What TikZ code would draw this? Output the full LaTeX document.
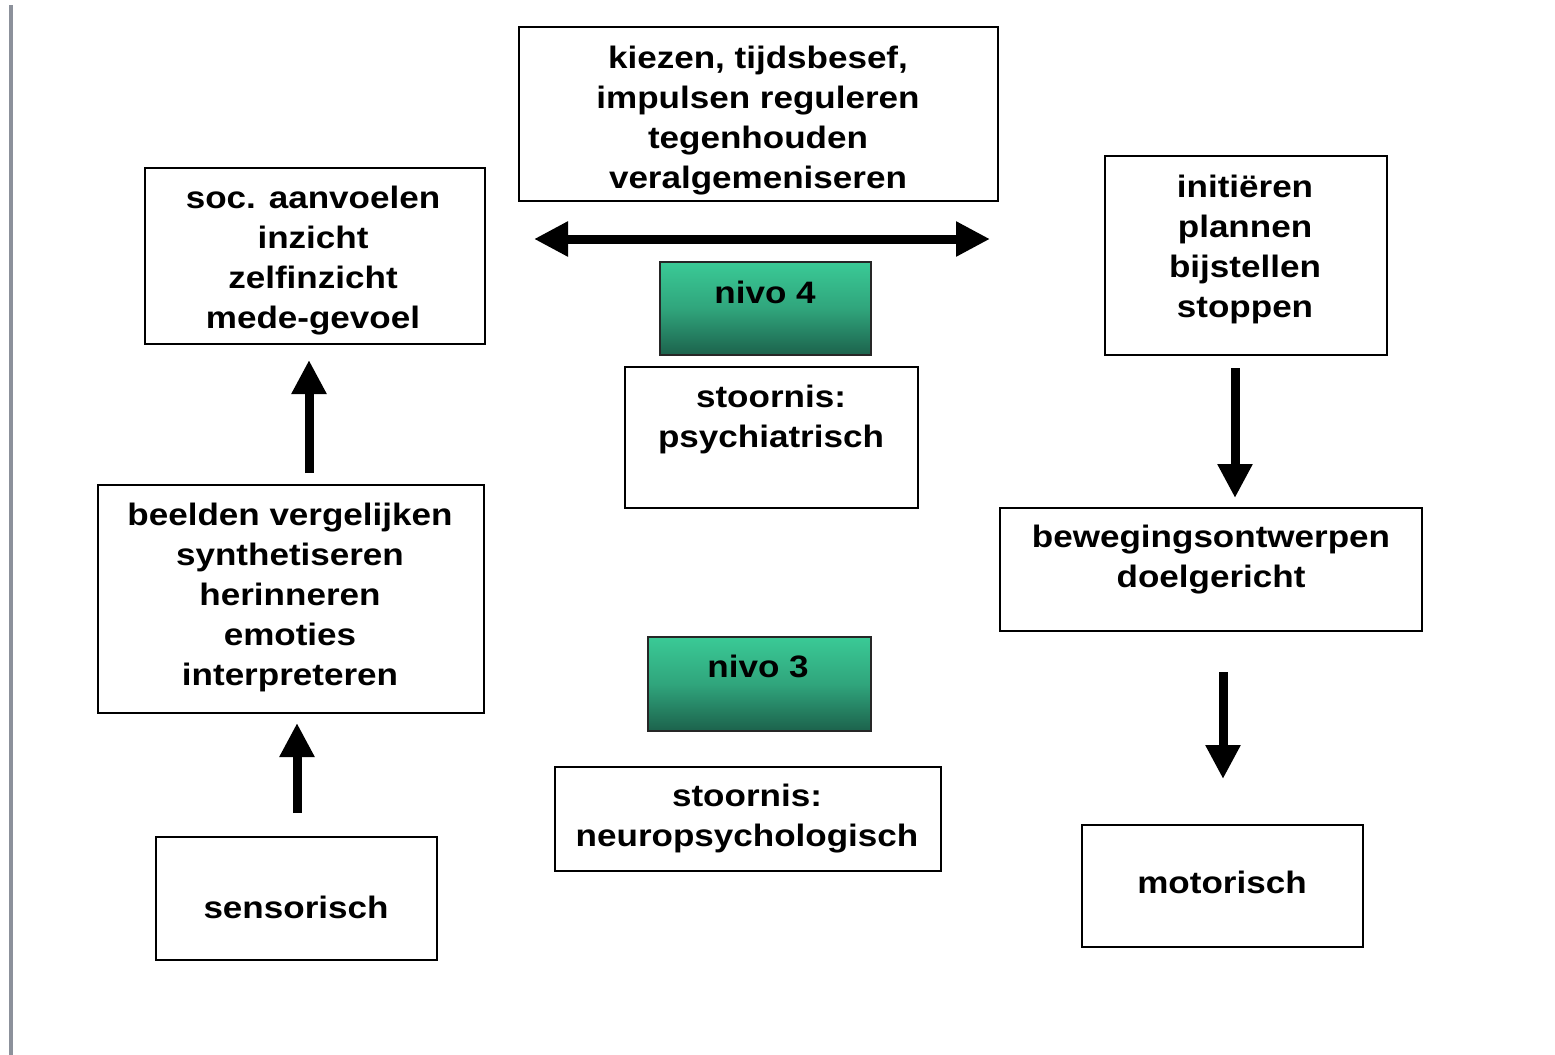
\documentclass[tikz,border=0pt]{standalone}
\usepackage{fontspec}
\setmainfont{Liberation Sans}[FakeStretch=1.13]
\usetikzlibrary{arrows.meta}
\definecolor{gtop}{RGB}{58,202,150}
\definecolor{gmid}{RGB}{48,165,124}
\definecolor{gbot}{RGB}{28,98,76}
\definecolor{edgegray}{RGB}{140,145,155}
\begin{document}
\begin{tikzpicture}[x=0.5pt,y=-0.5pt,
  boxshape/.style={draw=black,line width=0.7pt,fill=white},
  greenbox/.style={draw=black!85,line width=0.7pt,top color=gtop,bottom color=gbot,middle color=gmid},
  txt/.style={font=\fontsize{15.5}{20}\selectfont\bfseries,align=center,inner sep=0pt},
  bigarrow/.style={line width=4.5pt,-{Triangle[width=16.5pt,length=17pt]}},
  dblarrow/.style={line width=4.5pt,{Triangle[width=16.5pt,length=17pt]}-{Triangle[width=16.5pt,length=17pt]}}
]
\useasboundingbox (0,0) rectangle (1555,1055);
\fill[white] (0,0) rectangle (1555,1055);
\draw[edgegray,line width=2pt] (11,5) -- (11,1055);

% boxes
\draw[boxshape] (519,27) rectangle (998,201);
\node[txt] (ttop) at (758,121) {kiezen, tijdsbesef,\\impulsen reguleren\\tegenhouden\\veralgemeniseren};

\draw[boxshape] (145,168) rectangle (485,344);
\node[txt] (tlt) at (313,261) {soc. aanvoelen\\inzicht\\zelfinzicht\\mede-gevoel};

\draw[boxshape] (1105,156) rectangle (1387,355);
\node[txt] (trt) at (1245,249) {initiëren\\plannen\\bijstellen\\stoppen};

\draw[greenbox] (660,262) rectangle (871,355);
\node[txt] (n4) at (765,292) {nivo 4};

\draw[boxshape] (625,367) rectangle (918,508);
\node[txt] (sp) at (771,419) {stoornis:\\psychiatrisch};

\draw[boxshape] (98,485) rectangle (484,713);
\node[txt] (tlm) at (290,597) {beelden vergelijken\\synthetiseren\\herinneren\\emoties\\interpreteren};

\draw[boxshape] (1000,508) rectangle (1422,631);
\node[txt] (trm) at (1211,560) {bewegingsontwerpen\\doelgericht};

\draw[greenbox] (648,637) rectangle (871,731);
\node[txt] (n3) at (758,666) {nivo 3};

\draw[boxshape] (555,767) rectangle (941,871);
\node[txt] (sn) at (747,819) {stoornis:\\neuropsychologisch};

\draw[boxshape] (156,837) rectangle (437,960);
\node[txt] (sens) at (296,907) {sensorisch};

\draw[boxshape] (1082,825) rectangle (1363,947);
\node[txt] (mot) at (1222,882) {motorisch};

% arrow end points
\coordinate (hL) at (534,239);
\coordinate (hR) at (990,239);
\coordinate (u1a) at (309,473);
\coordinate (u1b) at (309,360);
\coordinate (u2a) at (297,813);
\coordinate (u2b) at (297,723);
\coordinate (d1a) at (1235,368);
\coordinate (d1b) at (1235,498);
\coordinate (d2a) at (1223,672);
\coordinate (d2b) at (1223,779);

\draw[dblarrow] (hL) -- (hR);
\draw[bigarrow] (u1a) -- (u1b);
\draw[bigarrow] (u2a) -- (u2b);
\draw[bigarrow] (d1a) -- (d1b);
\draw[bigarrow] (d2a) -- (d2b);
\end{tikzpicture}
\end{document}
